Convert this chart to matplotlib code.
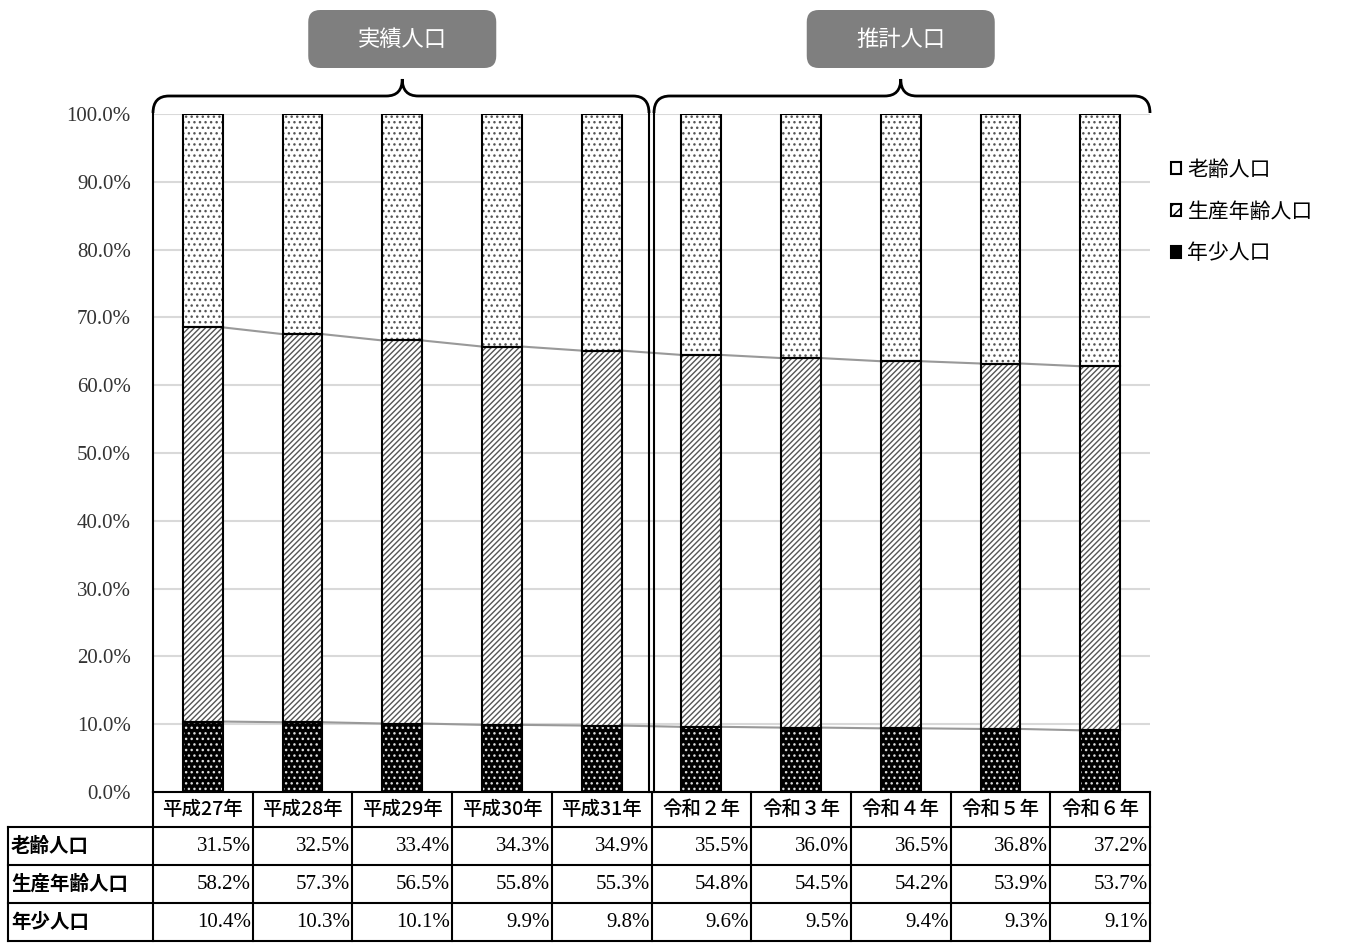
import numpy as np
import matplotlib.pyplot as plt
from matplotlib.patches import FancyBboxPatch, PathPatch, Patch
from matplotlib.path import Path
from matplotlib.transforms import blended_transform_factory, IdentityTransform

plt.rcParams['font.family'] = ['Noto Sans CJK JP', 'DejaVu Sans']
plt.rcParams['hatch.linewidth'] = 1.0

# data (percent)
years = ['平成27年', '平成28年', '平成29年', '平成30年', '平成31年',
         '令和２年', '令和３年', '令和４年', '令和５年', '令和６年']
elderly = [31.5, 32.5, 33.4, 34.3, 34.9, 35.5, 36.0, 36.5, 36.8, 37.2]
working = [58.2, 57.3, 56.5, 55.8, 55.3, 54.8, 54.5, 54.2, 53.9, 53.7]
young = [10.4, 10.3, 10.1, 9.9, 9.8, 9.6, 9.5, 9.4, 9.3, 9.1]
series_names = ['老齢人口', '生産年齢人口', '年少人口']
groups = ['実績人口', '推計人口']
group_mid = [2, 7]
yticks = np.arange(0, 101, 10)

W, H = 1346, 946
fig = plt.figure(figsize=(W / 100, H / 100), dpi=100)
ax = fig.add_axes([153 / W, 1 - 792 / H, (1150 - 153) / W, (792 - 114) / H])

x = np.arange(len(years))
tot = np.array(elderly) + np.array(working) + np.array(young)
y_n = np.array(young) / tot * 100
w_n = np.array(working) / tot * 100
e_n = np.array(elderly) / tot * 100
bw = 0.4


def hatched_bar(bottom, height, face, hcol, hatch, label):
    b = ax.bar(x, height, bw, bottom=bottom, color=face, edgecolor=hcol,
               hatch=hatch, linewidth=0, zorder=2, label=label)
    ax.bar(x, height, bw, bottom=bottom, fill=False, edgecolor='black',
           linewidth=1.5, zorder=3)
    return b


hatched_bar(0, y_n, 'black', '#dddddd', '...', series_names[2])
hatched_bar(y_n, w_n, 'white', '#555555', '//////', series_names[1])
hatched_bar(y_n + w_n, e_n, 'white', '#555555', '...', series_names[0])

# series lines
for top in [y_n, y_n + w_n]:
    for i in range(len(x) - 1):
        ax.plot([x[i] + bw / 2, x[i + 1] - bw / 2], [top[i], top[i + 1]],
                color='#999999', lw=1.5, zorder=1)

ax.set_xlim(-0.5, len(x) - 0.5)
ax.set_ylim(0, 100)
ax.set_yticks(yticks)
ax.set_yticklabels([f'{v:.1f}%' for v in yticks], family='Liberation Serif',
                   fontsize=15, color='#333333')
ax.set_xticks([])
ax.tick_params(axis='y', length=0, pad=16)
ax.yaxis.grid(True, color='#d9d9d9', lw=1.5)
ax.set_axisbelow(True)
for s in ['top', 'right', 'bottom']:
    ax.spines[s].set_visible(False)
ax.spines['left'].set_linewidth(1.5)

# legend
leg_handles = [Patch(facecolor='white', edgecolor='black', lw=1.5),
               Patch(facecolor='white', edgecolor='black', hatch='///', lw=1.5),
               Patch(facecolor='black', edgecolor='black', lw=1.5)]
fig.legend(handles=leg_handles, labels=series_names,
           loc='upper left', bbox_to_anchor=(1152 / W, 1 - 140 / H),
           frameon=False, fontsize=15, handlelength=0.5, handleheight=0.5,
           handletextpad=0.3, labelspacing=0.95)

# table under the chart
tr = blended_transform_factory(ax.transData, ax.transAxes)
hdr_h = 35 / 678
row_h = 38 / 678
lab_left = -0.5 - 145 / 99.7
right = len(x) - 0.5
bottom = -hdr_h - 3 * row_h
lk = dict(color='black', lw=1.5, transform=tr, clip_on=False)
ax.plot([-0.5, right], [0, 0], **lk)
for k in range(4):
    yy = -hdr_h - k * row_h
    ax.plot([lab_left, right], [yy, yy], **lk)
for i in range(len(x) + 1):
    ax.plot([i - 0.5, i - 0.5], [0, bottom], **lk)
ax.plot([lab_left, lab_left], [-hdr_h, bottom], **lk)
for i, yr in enumerate(years):
    ax.text(i, -hdr_h / 2, yr, transform=tr, ha='center', va='center',
            fontsize=14, weight='medium')
rows = [elderly, working, young]
for r, (name, vals) in enumerate(zip(series_names, rows)):
    yc = -hdr_h - (r + 0.5) * row_h
    ax.text(lab_left + 0.03, yc, name, transform=tr, ha='left', va='center',
            fontsize=14, weight='bold')
    for i, v in enumerate(vals):
        ax.text(i + 0.48, yc, f'{v:.1f}%', transform=tr, ha='right',
                va='center', family='Liberation Serif', fontsize=15)

# braces and double divider
yb = (792 - 96) / 678
ye = (792 - 113) / 678
yt = (792 - 79) / 678
rx = 0.16
sep = 0.025
bk = dict(facecolor='none', edgecolor='black', lw=2, transform=tr,
          clip_on=False)
spans = [(-0.5, 4.5 - sep, group_mid[0]), (4.5 + sep, right, group_mid[1])]
for xa, xb, xm in spans:
    verts = [(xa, ye), (xa, yb), (xa + rx, yb), (xm - rx, yb), (xm, yb),
             (xm, yt), (xm, yb), (xm + rx, yb), (xb - rx, yb), (xb, yb),
             (xb, ye)]
    codes = [Path.MOVETO, Path.CURVE3, Path.CURVE3, Path.LINETO,
             Path.CURVE3, Path.CURVE3, Path.CURVE3, Path.CURVE3,
             Path.LINETO, Path.CURVE3, Path.CURVE3]
    ax.add_patch(PathPatch(Path(verts, codes), **bk))
for xs in [4.5 - sep, 4.5 + sep]:
    ax.plot([xs, xs], [0, ye], color='black', lw=1.5, transform=tr,
            clip_on=False)

# group labels in rounded boxes
fig.canvas.draw()
for name, xm in zip(groups, group_mid):
    cx = ax.transData.transform((xm, 0))[0]
    box = FancyBboxPatch((cx - 94, H - 68), 188, 58,
                         boxstyle='round,pad=0,rounding_size=12',
                         facecolor='#7f7f7f', edgecolor='none',
                         transform=IdentityTransform())
    fig.add_artist(box)
    fig.text(cx, H - 39, name, transform=IdentityTransform(), ha='center',
             va='center', color='white', fontsize=16)

fig.savefig('out.png', dpi=100)
